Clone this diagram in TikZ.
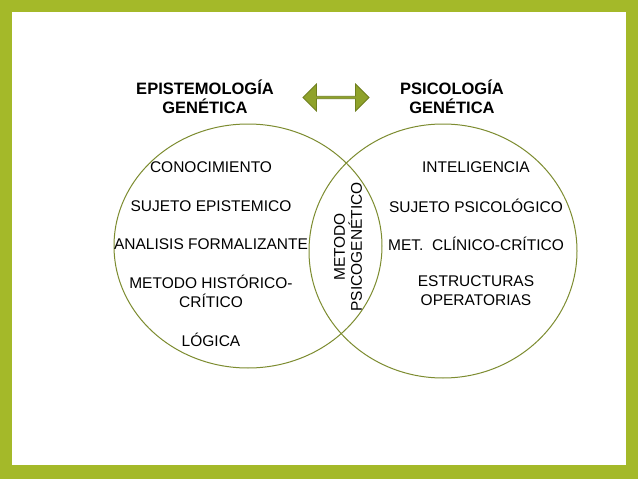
\documentclass[tikz,border=0pt]{standalone}
\usepackage{fontspec}
\setmainfont{Liberation Sans}
\usetikzlibrary{shapes.arrows}
\definecolor{frame}{HTML}{A4B929}
\definecolor{arrowfill}{HTML}{8FA22A}
\definecolor{arrowline}{HTML}{6F7F1E}
\definecolor{ring}{HTML}{7D8C30}
\begin{document}
\begin{tikzpicture}[x=1pt,y=-1pt,
  lbl/.style={font=\fontsize{15.5}{19}\selectfont, align=center, inner sep=0pt},
  ttl/.style={font=\bfseries\fontsize{16.5}{19}\selectfont, align=center, inner sep=0pt},
  ring/.style={draw=ring, line width=1pt}]
\useasboundingbox (0,0) rectangle (638,479);
\fill[frame] (0,0) rectangle (638,479);
\fill[white] (12,12) rectangle (626,465);
\draw[ring] (248,246) ellipse [x radius=134, y radius=122];
\draw[ring] (443,251) ellipse [x radius=134, y radius=127];
\node[ttl] (t1) at (205,97) {EPISTEMOLOGÍA\\GENÉTICA};
\node[ttl] (t2) at (452,97) {PSICOLOGÍA\\GENÉTICA};
\node[draw=arrowline, fill=arrowfill, double arrow, double arrow head extend=4pt,
  minimum height=66pt, minimum width=27pt, inner sep=0pt, line width=0.8pt,
  double arrow tip angle=90] (arr) at (336,97.5) {};
\node[lbl] (l1) at (211,167) {CONOCIMIENTO};
\node[lbl] (l2) at (211,206) {SUJETO EPISTEMICO};
\node[lbl] (l3) at (211,244) {ANALISIS FORMALIZANTE};
\node[lbl] (l4) at (211,291) {METODO HISTÓRICO-\\CRÍTICO};
\node[lbl] (l5) at (211,340) {LÓGICA};
\node[lbl] (r1) at (476,167) {INTELIGENCIA};
\node[lbl] (r2) at (476,206) {SUJETO PSICOLÓGICO};
\node[lbl] (r3) at (476,244) {MET.\ \ CLÍNICO-CRÍTICO};
\node[lbl] (r4) at (476,291) {ESTRUCTURAS\\OPERATORIAS};
\node[lbl, rotate=90, font=\fontsize{15.5}{17}\selectfont] (m) at (348,247) {METODO\\PSICOGENÉTICO};
\end{tikzpicture}
\end{document}
